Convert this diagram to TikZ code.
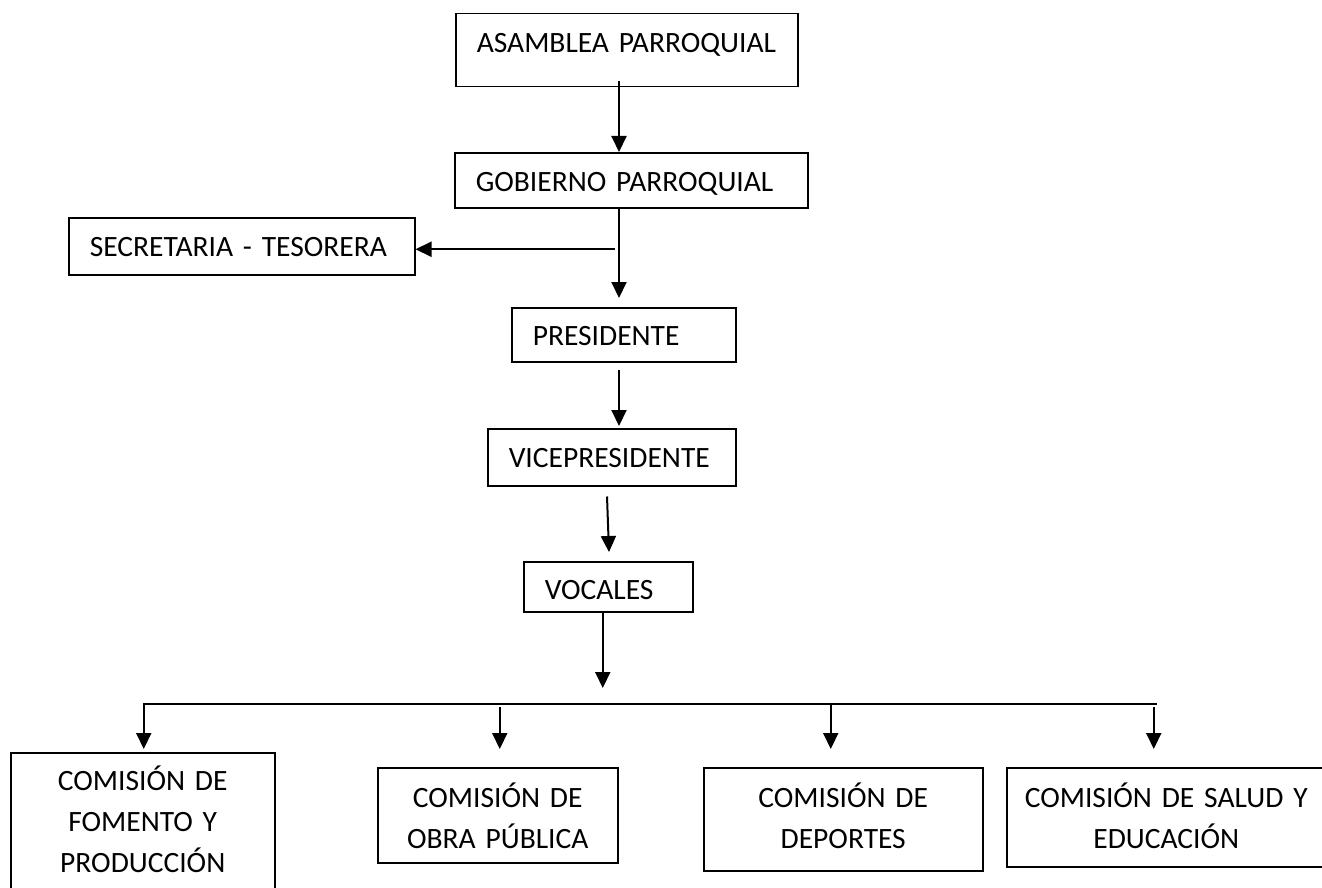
\documentclass[tikz,border=0pt]{standalone}
\usepackage{fontspec}
\usetikzlibrary{arrows.meta}
\newfontfamily\calibri{Carlito}
\newcommand{\rotulo}{\calibri\fontsize{29.5pt}{41pt}\selectfont}

\begin{document}
\begin{tikzpicture}[x=1pt,y=-1pt,
    puesto/.style={draw,line width=1.5pt,inner xsep=21pt,inner ysep=0pt,anchor=north west,align=left,font=\rotulo},
    comision/.style={draw,line width=1.5pt,inner sep=0pt,anchor=north west,align=center,text height=40pt,font=\rotulo},
    flecha/.style={-{Triangle[width=15pt,length=16pt]},line width=2pt},
    linea/.style={line width=2pt}]
    \useasboundingbox (0,0) rectangle (1322,888);

    \coordinate (eje) at (619,0);
    \coordinate (busL) at (143,704);
    \coordinate (busR) at (1157,704);
    \coordinate (puntas) at (0,749);

    \node[puesto,text width=300pt,text height=39pt,text depth=34pt] (asamblea) at (455,13) {ASAMBLEA PARROQUIAL};
    \node[puesto,text width=311pt,text height=39pt,text depth=16pt] (gobierno) at (454,152) {GOBIERNO PARROQUIAL};
    \node[puesto,text width=304pt,text height=39pt,text depth=18pt] (secretaria) at (68,217) {SECRETARIA - TESORERA};
    \node[puesto,text width=182pt,text height=38pt,text depth=16pt] (presidente) at (511,307) {PRESIDENTE};
    \node[puesto,text width=206pt,text height=39pt,text depth=18pt] (vice) at (487,428) {VICEPRESIDENTE};
    \node[puesto,text width=127pt,text height=38pt,text depth=12pt] (vocales) at (523,561) {VOCALES};

    \node[comision,text width=264pt,text height=38pt,text depth=110pt] (fomento) at (10,752) {COMISIÓN DE\\FOMENTO Y\\PRODUCCIÓN};
    \node[comision,text width=240pt,text depth=55pt] (obra) at (377,767) {COMISIÓN DE\\OBRA PÚBLICA};
    \node[comision,text width=279pt,text depth=63pt] (deportes) at (703,767) {COMISIÓN DE\\DEPORTES};
    \node[comision,text width=319pt,text depth=59pt] (salud) at (1006,767) {COMISIÓN DE SALUD Y\\EDUCACIÓN};

    \draw[flecha] ([yshift=6pt]eje |- asamblea.south) -- (eje |- gobierno.north);
    \draw[flecha] (eje |- gobierno.south) -- ([yshift=9pt]eje |- presidente.north);
    \draw[flecha] ([xshift=-4pt,yshift=-3pt]eje |- secretaria.east) -- ([yshift=-3pt]secretaria.east);
    \draw[flecha] ([yshift=-7pt]eje |- presidente.south) -- ([yshift=2pt]eje |- vice.north);
    \draw[flecha] ([xshift=-12pt,yshift=-10pt]eje |- vice.south) -- ([xshift=-10pt,yshift=9pt]eje |- vocales.north);
    \draw[flecha] ([xshift=-5.5pt]vocales.south) -- ([xshift=-5.5pt,yshift=16pt]vocales.south |- busL);

    \draw[linea] (busL) -- (busR);
    \foreach \n/\dx/\dy in {fomento/1/0,obra/2/3,deportes/-12.5/0,salud/-12.5/3}
        \draw[flecha] ([xshift=\dx pt,yshift=-\dy pt]\n.north |- busL) -- ([xshift=\dx pt]\n.north |- puntas);
\end{tikzpicture}
\end{document}
